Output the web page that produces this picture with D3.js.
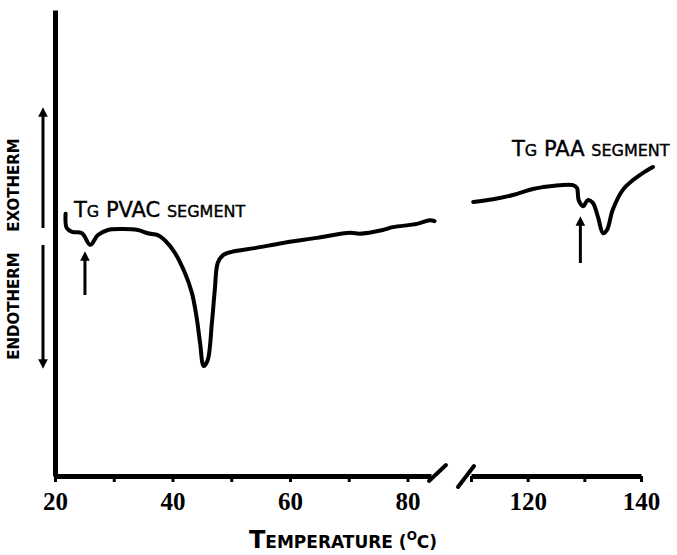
<!DOCTYPE html>
<html>
<head>
<meta charset="utf-8">
<script src="https://cdn.jsdelivr.net/npm/d3@7"></script>
<style>
  body { margin: 0; background: #fff; }
  svg text { font-family: "DejaVu Sans", sans-serif; fill: #000; }
  .curve { fill: none; stroke: #000; stroke-width: 4; stroke-linejoin: round; stroke-linecap: round; }
  .axis path, .axis line { stroke: #000; }
</style>
</head>
<body>
<svg id="chart"></svg>
<script>
// DSC trace, left part (20 - 84 C), signal in arbitrary units
const leftTemps = [21.8, 22.0, 22.9, 24.6, 26.0, 27.3, 29.0, 31.4, 34.1, 35.8, 37.5, 38.7, 40.4,
  42.1, 43.3, 44.1, 44.7, 45.3, 46.0, 46.7, 47.2, 47.7, 48.6, 50.1, 54.0, 58.8, 64.6,
  70.2, 71.9, 75.8, 77.5, 81.6, 83.8, 84.6];
const leftSignal = [56.3, 53.2, 52.4, 52.1, 49.6, 51.7, 52.8, 53.0, 52.8, 52.1, 51.7, 50.6, 47.9,
  43.6, 39.3, 34.1, 28.5, 23.6, 24.9, 32.8, 39.9, 45.7, 47.4, 48.1, 48.9, 50.0, 51.1,
  52.2, 52.0, 52.8, 53.4, 54.1, 54.9, 54.7];

// right part (110 - 142 C)
const rightTemps = [110.4, 113.9, 117.4, 120.9, 122.7, 125.7, 128.0, 128.7, 129.0, 129.8, 130.6,
  131.5, 132.4, 133.3, 134.0, 135.0, 136.8, 138.6, 140.3, 142.1];
const rightSignal = [58.8, 59.4, 60.3, 61.6, 62.0, 62.4, 62.4, 61.8, 59.2, 57.9, 59.2,
  58.6, 55.6, 52.1, 52.8, 57.1, 61.4, 63.5, 65.0, 66.3];

const leftTicks = [20, 30, 40, 50, 60, 70, 80];
const leftTickLabels = ["20", "", "40", "", "60", "", "80"];
const rightTicks = [110, 120, 130, 140];
const rightTickLabels = ["", "120", "", "140"];

// glass transitions marked with arrows
const tgMarks = [
  { side: "left", temp: 25.1, label: ["T", "G", " PVAC ", "SEGMENT"] },
  { side: "right", temp: 129.3, label: ["T", "G", " PAA ", "SEGMENT"] },
];

window.onload = function () {
  const width = 677;
  const height = 555;

  const svg = d3.select("#chart").attr("width", width).attr("height", height);

  const xLeft = d3.scaleLinear().domain([20, 84]).range([55, 431]);
  const xRight = d3.scaleLinear().domain([110, 140]).range([471, 641]);
  const y = d3.scaleLinear().domain([0, 100]).range([476, 10]);

  // y axis (no ticks)
  svg.append("g")
    .attr("class", "axis")
    .attr("transform", "translate(55,0)")
    .call(d3.axisLeft(y).tickValues([]).tickSizeOuter(0))
    .select(".domain").attr("stroke-width", 5);

  function xAxis(scale, ticks, labels) {
    const g = svg.append("g")
      .attr("class", "axis")
      .attr("transform", "translate(0,476)")
      .call(d3.axisBottom(scale)
        .tickValues(ticks)
        .tickSize(6)
        .tickSizeOuter(0)
        .tickFormat(function (d, i) { return labels[i]; }));
    g.select(".domain").attr("stroke-width", 5);
    g.selectAll(".tick line").attr("stroke-width", 3);
    g.selectAll(".tick text")
      .attr("y", 34)
      .attr("dy", 0)
      .style("font-size", "25px")
      .style("font-family", "Liberation Sans Narrow")
      .style("font-weight", "bold");
  }
  xAxis(xLeft, leftTicks, leftTickLabels);
  xAxis(xRight, rightTicks, rightTickLabels);

  // axis break marks
  svg.append("line").attr("x1", xLeft.range()[1] - 2).attr("y1", 481)
    .attr("x2", xLeft.range()[1] + 15).attr("y2", 465)
    .attr("stroke", "#000").attr("stroke-width", 4).attr("stroke-linecap", "round");
  svg.append("line").attr("x1", xRight.range()[0] - 13).attr("y1", 487)
    .attr("x2", xRight.range()[0] + 3).attr("y2", 466)
    .attr("stroke", "#000").attr("stroke-width", 4).attr("stroke-linecap", "round");

  // curves
  const line = d3.line().curve(d3.curveCatmullRom.alpha(0.5));
  const leftPts = leftTemps.map(function (t, i) { return [xLeft(t), y(leftSignal[i])]; });
  const rightPts = rightTemps.map(function (t, i) { return [xRight(t), y(rightSignal[i])]; });
  svg.append("path").attr("class", "curve").attr("d", line(leftPts));
  svg.append("path").attr("class", "curve").attr("d", line(rightPts));

  // arrows
  svg.append("defs").append("marker")
    .attr("id", "head")
    .attr("viewBox", "0 0 10 10")
    .attr("refX", 5).attr("refY", 5)
    .attr("markerWidth", 3.2).attr("markerHeight", 4.2)
    .attr("markerUnits", "strokeWidth")
    .attr("orient", "auto")
    .append("path").attr("d", "M0,0 L10,5 L0,10 Z").attr("fill", "#000");

  function arrow(x1, y1, x2, y2) {
    svg.append("line")
      .attr("x1", x1).attr("y1", y1).attr("x2", x2).attr("y2", y2)
      .attr("stroke", "#000").attr("stroke-width", 3)
      .attr("marker-end", "url(#head)");
  }

  const markX = { left: xLeft, right: xRight };
  const labelPos = { left: [74, 217], right: [512, 156] };
  const arrowY = { left: [295, 256], right: [263, 221] };

  tgMarks.forEach(function (m) {
    const ax = markX[m.side](m.temp);
    arrow(ax, arrowY[m.side][0], ax, arrowY[m.side][1]);
    const t = svg.append("text")
      .attr("x", labelPos[m.side][0])
      .attr("y", labelPos[m.side][1])
      .style("stroke", "#000").style("stroke-width", 0.4);
    t.append("tspan").style("font-size", "21px").text(m.label[0]);
    t.append("tspan").style("font-size", "16px").text(m.label[1]);
    t.append("tspan").style("font-size", "21px").text(m.label[2]);
    t.append("tspan").style("font-size", "16px").text(m.label[3]);
  });

  // y axis labels
  arrow(43, 228, 43, 112);
  arrow(43, 245, 43, 364);
  svg.append("text")
    .attr("transform", "translate(19,185) rotate(-90)")
    .attr("text-anchor", "middle")
    .style("font-weight", "bold")
    .style("font-size", "15px")
    .text("EXOTHERM");
  svg.append("text")
    .attr("transform", "translate(19,306) rotate(-90)")
    .attr("text-anchor", "middle")
    .style("font-weight", "bold")
    .style("font-size", "15px")
    .text("ENDOTHERM");

  // x axis title
  const title = svg.append("text")
    .attr("x", 343).attr("y", 548)
    .attr("text-anchor", "middle")
    .style("font-weight", "bold");
  title.append("tspan").style("font-size", "24px").text("T");
  title.append("tspan").style("font-size", "17px").text("EMPERATURE (");
  title.append("tspan").style("font-size", "12px").attr("dy", -8).text("O");
  title.append("tspan").style("font-size", "17px").attr("dy", 8).text("C)");
};
</script>
</body>
</html>
